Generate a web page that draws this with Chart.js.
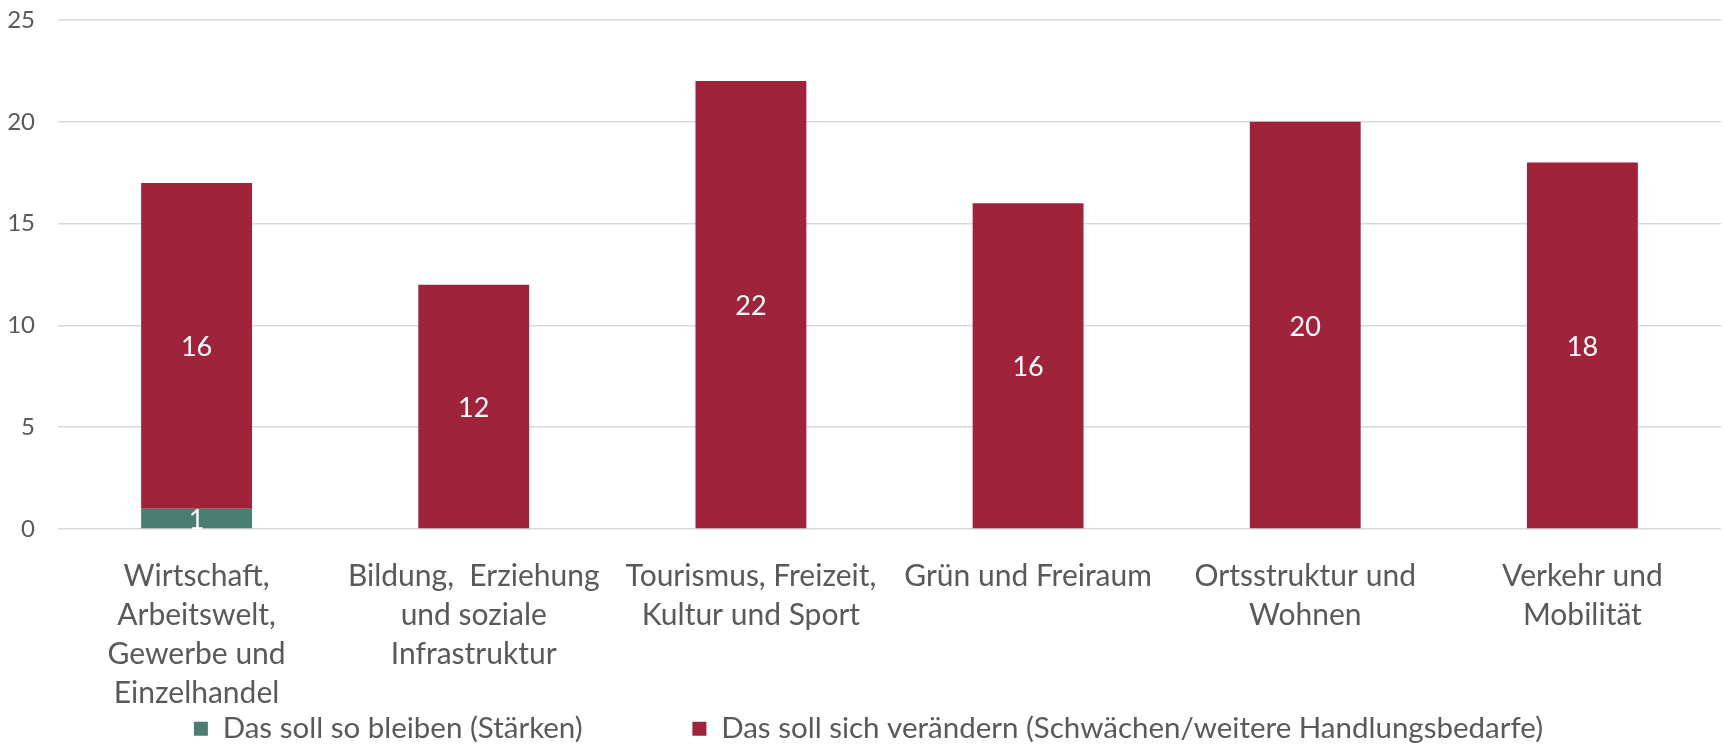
<!DOCTYPE html>
<html>
<head>
<meta charset="utf-8">
<script src="https://cdn.jsdelivr.net/npm/chart.js@4.4.1/dist/chart.umd.min.js"></script>
<style>
  html, body { margin: 0; padding: 0; background: #fff; }
</style>
</head>
<body>
<canvas id="chart" width="1725" height="746"></canvas>
<script>
// Kategorien (mehrzeilige Achsenbeschriftungen)
var categories = [
    ['Wirtschaft,', 'Arbeitswelt,', 'Gewerbe und', 'Einzelhandel'],
    ['Bildung,  Erziehung', 'und soziale', 'Infrastruktur'],
    ['Tourismus, Freizeit,', 'Kultur und Sport'],
    ['Grün und Freiraum'],
    ['Ortsstruktur und', 'Wohnen'],
    ['Verkehr und', 'Mobilität']
];
var seriesNames = [
    'Das soll so bleiben (Stärken)',
    'Das soll sich verändern (Schwächen/weitere Handlungsbedarfe)'
];
var staerken = [1, 0, 0, 0, 0, 0];
var veraendern = [16, 12, 22, 16, 20, 18];
var yTicks = [0, 5, 10, 15, 20, 25];

var FONT = 'Lato';
var GREY = '#595959';

// weisse Werte mittig in den Balken
var barLabels = {
    id: 'barLabels',
    afterDatasetsDraw: function(chart) {
        var ctx = chart.ctx;
        ctx.save();
        ctx.font = '27px ' + FONT;
        ctx.fillStyle = '#ffffff';
        ctx.textAlign = 'center';
        ctx.textBaseline = 'middle';
        chart.data.datasets.forEach(function(ds, i) {
            chart.getDatasetMeta(i).data.forEach(function(bar, j) {
                var v = ds.data[j];
                if (!v) return;
                var p = bar.getCenterPoint();
                ctx.fillText(String(v), p.x, p.y + 2);
            });
        });
        ctx.restore();
    }
};

// Legende etwas nach rechts schieben (wie im Original)
var legendShift = {
    id: 'legendShift',
    afterLayout: function(chart) {
        if (!chart.legend) return;
        chart.legend.left += 8;
        chart.legend.right += 8;
    }
};

Chart.defaults.font.family = FONT;
Chart.defaults.color = GREY;

new Chart(document.getElementById('chart').getContext('2d'), {
    type: 'bar',
    data: {
        labels: categories,
        datasets: [
            {
                label: seriesNames[0],
                data: staerken,
                backgroundColor: '#4A7E70',
                borderWidth: 0,
                categoryPercentage: 1,
                barPercentage: 0.4
            },
            {
                label: seriesNames[1],
                data: veraendern,
                backgroundColor: '#9F233B',
                borderWidth: 0,
                categoryPercentage: 1,
                barPercentage: 0.4
            }
        ]
    },
    options: {
        responsive: false,
        animation: false,
        devicePixelRatio: 1,
        layout: { padding: { top: 0, right: 4, left: 0, bottom: -7.5 } },
        scales: {
            x: {
                stacked: true,
                grid: { display: false },
                border: { display: false },
                ticks: {
                    color: GREY,
                    font: { size: 30, lineHeight: 1.3 },
                    padding: 20,
                    maxRotation: 0,
                    autoSkip: false
                },
                afterFit: function(scale) { scale.height = 181; }
            },
            y: {
                stacked: true,
                min: yTicks[0],
                max: yTicks[yTicks.length - 1],
                grid: { color: '#D9D9D9', lineWidth: 1.5, drawTicks: false },
                border: { display: false },
                ticks: {
                    stepSize: 5,
                    color: GREY,
                    font: { size: 24 },
                    padding: 23
                },
                afterFit: function(scale) {
                    scale.width = 58;
                    scale.paddingTop = 20;
                }
            }
        },
        plugins: {
            tooltip: { enabled: false },
            legend: {
                position: 'bottom',
                labels: {
                    color: GREY,
                    font: { size: 29.5 },
                    boxWidth: 14,
                    boxHeight: 14,
                    padding: 4,
                    generateLabels: function(chart) {
                        var items = Chart.defaults.plugins.legend.labels.generateLabels(chart);
                        // Abstand zwischen den Eintraegen wie im Original
                        items[0].text = items[0].text + '\u00A0\u00A0\u00A0\u00A0\u00A0\u00A0\u00A0\u00A0\u00A0\u00A0\u00A0\u00A0\u00A0\u00A0';
                        return items;
                    }
                }
            }
        }
    },
    plugins: [barLabels, legendShift]
});
</script>
</body>
</html>
